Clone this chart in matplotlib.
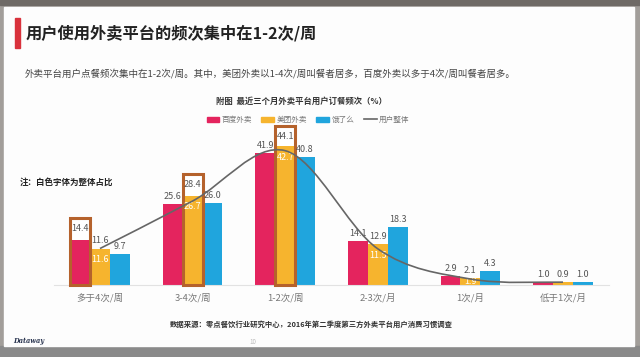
import numpy as np
import matplotlib.pyplot as plt
from matplotlib.patches import Rectangle, Patch
from matplotlib.lines import Line2D
from matplotlib.path import Path
from matplotlib.patches import PathPatch

plt.rcParams['font.family'] = ['Noto Sans CJK SC', 'DejaVu Sans']

# 数据
categories = ['多于4次/周', '3-4次/周', '1-2次/周', '2-3次/月', '1次/月', '低于1次/月']
series_names = ['百度外卖', '美团外卖', '饿了么']
baidu = [14.4, 25.6, 41.9, 14.1, 2.9, 1.0]
meituan = [11.6, 28.4, 44.1, 12.9, 2.1, 0.9]
eleme = [9.7, 26.0, 40.8, 18.3, 4.3, 1.0]
overall = [11.6, 26.7, 42.7, 11.5, 1.9, 0.9]
line_name = '用户整体'

colors = ['#E4245E', '#F6B42E', '#20A5DD']
box_color = '#B5622C'
# 橙色框：(系列, 类别, 框高出柱顶部分)
highlights = [(0, 0, 7.0), (1, 1, 7.0), (1, 2, 6.5)]

fig = plt.figure(figsize=(6.4, 3.57), dpi=100)
W, H = 640, 357

def px(x0, y0, w, h):
    return (x0 / W, 1 - (y0 + h) / H, w / W, h / H)

# 照片背景 + 白色幻灯片
fig.patches.append(Rectangle((0, 0), 1, 1, transform=fig.transFigure,
                             color='#a29e9a', zorder=-10))
fig.patches.append(Rectangle((0, 1 - 5 / H), 1, 5 / H, transform=fig.transFigure,
                             color='#6f6a66', zorder=-9))
fig.patches.append(Rectangle((0, 0), 1, 11 / H, transform=fig.transFigure,
                             color='#8a8a8a', zorder=-9))
sx, sy, sw, sh = px(4, 7, 630, 339)
fig.patches.append(Rectangle((sx, sy), sw, sh, transform=fig.transFigure,
                             color='#fdfdfd', zorder=-8))

# 标题
rx, ry, rw, rh = px(15, 18, 4.5, 30)
fig.patches.append(Rectangle((rx, ry), rw, rh, transform=fig.transFigure,
                             color='#D9323C', zorder=-5))
fig.text(26 / W, 1 - 33 / H, '用户使用外卖平台的频次集中在1-2次/周',
         fontsize=11.7, fontweight='bold', color='#222222', va='center', ha='left')
fig.text(25 / W, 1 - 74 / H,
         '外卖平台用户点餐频次集中在1-2次/周。其中，美团外卖以1-4次/周叫餐者居多，百度外卖以多于4次/周叫餐者居多。',
         fontsize=6.85, color='#444444', va='center', ha='left')
fig.text(301 / W, 1 - 101 / H, '附图  最近三个月外卖平台用户订餐频次（%）',
         fontsize=6, fontweight='bold', color='#333333', va='center', ha='center')
fig.text(20 / W, 1 - 182 / H, '注：白色字体为整体占比',
         fontsize=6.1, fontweight='bold', color='#222222', va='center', ha='left')
fig.text(311 / W, 1 - 324 / H,
         '数据来源：零点餐饮行业研究中心，2016年第二季度第三方外卖平台用户消费习惯调查',
         fontsize=5.3, fontweight='bold', color='#333333', va='center', ha='center')
fig.text(253 / W, 1 - 342 / H, '10', fontsize=4.5, color='#bbbbbb', va='center', ha='center')
fig.text(29 / W, 1 - 341 / H, 'Dataway', fontsize=4.8, fontweight='bold', style='italic',
         color='#2a3550', va='center', ha='center', family='DejaVu Serif')

# 坐标轴
ax = fig.add_axes([53.7 / W, 72 / H, 555.6 / W, 173 / H])
ax.set_xlim(-0.5, 5.5)
ax.set_ylim(0, 55)
ax.patch.set_alpha(0)
for s in ['top', 'right', 'left']:
    ax.spines[s].set_visible(False)
ax.spines['bottom'].set_color('#e2e2e2')
ax.spines['bottom'].set_linewidth(0.8)
ax.set_yticks([])
x = np.arange(len(categories))
ax.set_xticks(x)
ax.set_xticklabels(categories, fontsize=6.8, color='#777777')
ax.tick_params(axis='x', length=0, pad=6)

bw = 0.215
data = [baidu, meituan, eleme]
hl = {(s, c): p for s, c, p in highlights}
for i, vals in enumerate(data):
    xs = x + (i - 1) * bw
    ax.bar(xs, vals, width=bw, color=colors[i], zorder=2)
    for j, v in enumerate(vals):
        if (i, j) in hl:
            pad = hl[(i, j)]
            ax.add_patch(Rectangle((xs[j] - bw / 2, v), bw, pad, facecolor='white',
                                   edgecolor='none', zorder=3))
            ax.add_patch(Rectangle((xs[j] - bw / 2, 0), bw, v + pad, facecolor='none',
                                   edgecolor=box_color, linewidth=2.2, zorder=4,
                                   clip_on=False))
            ax.text(xs[j], v + pad / 2, f'{v:.1f}', ha='center', va='center',
                    fontsize=6.5, color='#555555', zorder=5)
        else:
            ax.text(xs[j], v + 1.0, f'{v:.1f}', ha='center', va='bottom',
                    fontsize=6.5, color='#555555', zorder=5)

# 白色字体：整体占比
for j, v in enumerate(overall[:5]):
    yv = max(meituan[j] - 3.5, meituan[j] / 2)
    ax.text(x[j], yv, f'{v:.1f}', ha='center', va='center', fontsize=6.5,
            color='white', zorder=5)

# 平滑的用户整体曲线（Catmull-Rom -> Bezier）
pts = np.column_stack([x, overall]).astype(float)
ext = np.vstack([pts[0], pts, pts[-1]])
verts = [tuple(pts[0])]
codes = [Path.MOVETO]
for k in range(len(pts) - 1):
    p0, p1, p2, p3 = ext[k], ext[k + 1], ext[k + 2], ext[k + 3]
    c1 = p1 + (p2 - p0) / 6
    c2 = p2 - (p3 - p1) / 6
    verts += [tuple(c1), tuple(c2), tuple(p2)]
    codes += [Path.CURVE4] * 3
ax.add_patch(PathPatch(Path(verts, codes), facecolor='none', edgecolor='#666666',
                       linewidth=1.2, zorder=6))

# 图例
handles = [Patch(color=c) for c in colors] + [Line2D([], [], color='#666666', lw=1.2)]
labels = series_names + [line_name]
fig.legend(handles, labels, loc='center', bbox_to_anchor=(308 / W, 1 - 120 / H),
           ncol=4, frameon=False, fontsize=5.5, handlelength=1.7, handleheight=0.6,
           handletextpad=0.3, columnspacing=1.2, labelcolor='#777777')

plt.savefig('out.png', dpi=100)
